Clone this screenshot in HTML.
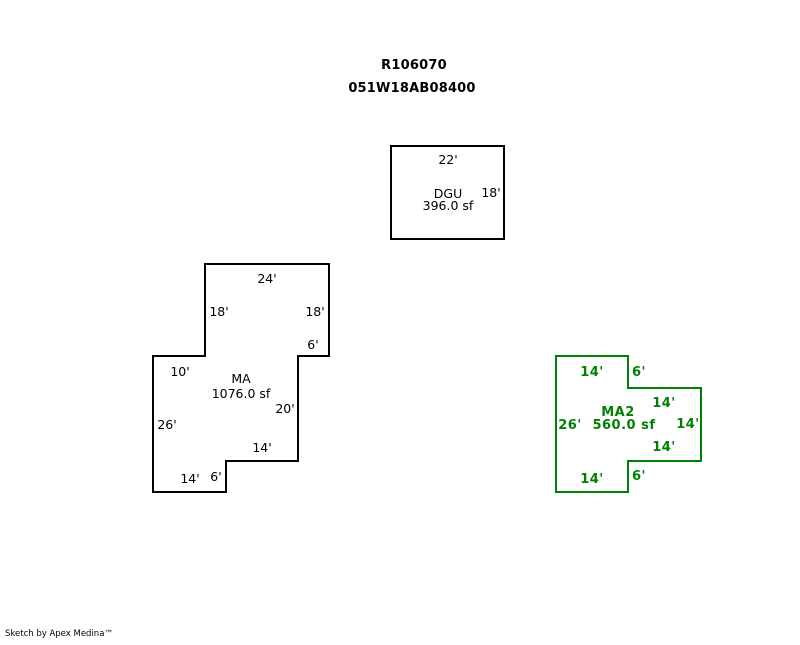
<!DOCTYPE html>
<html><head><style>
body{margin:0;background:#fff}
svg text{font-family:"DejaVu Sans","Liberation Sans",sans-serif;font-size:12.5px}
.g text{font-size:13px;letter-spacing:0.5px}
</style></head><body>
<svg width="800" height="640" xmlns="http://www.w3.org/2000/svg">
<text x="414" y="69" text-anchor="middle" font-weight="bold" style="font-size:13px;letter-spacing:0.2px">R106070</text>
<text x="412" y="92" text-anchor="middle" font-weight="bold" style="font-size:13px;letter-spacing:0.2px">051W18AB08400</text>
<rect x="391" y="146" width="113" height="93" fill="none" stroke="#000" stroke-width="2"/>
<g text-anchor="middle" fill="#000">
<text x="448" y="164">22'</text>
<text x="491" y="197">18'</text>
<text x="448" y="198">DGU</text>
<text x="448" y="210">396.0 sf</text>
</g>
<polygon points="153,356 205,356 205,264 329,264 329,356 298,356 298,461 226,461 226,492 153,492" fill="none" stroke="#000" stroke-width="2"/>
<g text-anchor="middle" fill="#000">
<text x="267" y="283">24'</text>
<text x="219" y="316">18'</text>
<text x="315" y="316">18'</text>
<text x="313" y="349">6'</text>
<text x="180" y="376">10'</text>
<text x="241" y="383">MA</text>
<text x="241" y="398">1076.0 sf</text>
<text x="285" y="413">20'</text>
<text x="167" y="429">26'</text>
<text x="262" y="452">14'</text>
<text x="190" y="483">14'</text>
<text x="216" y="481">6'</text>
</g>
<polygon points="556,356 628,356 628,388 701,388 701,461 628,461 628,492 556,492" fill="none" stroke="#008000" stroke-width="2"/>
<g class="g" text-anchor="middle" fill="#008000" font-weight="bold">
<text x="592" y="376">14'</text>
<text x="639" y="376">6'</text>
<text x="664" y="407">14'</text>
<text x="618" y="416">MA2</text>
<text x="570" y="429">26'</text>
<text x="624" y="429">560.0 sf</text>
<text x="688" y="428">14'</text>
<text x="664" y="451">14'</text>
<text x="592" y="483">14'</text>
<text x="639" y="480">6'</text>
</g>
<text x="5" y="636" style="font-size:8.5px">Sketch by Apex Medina™</text>
</svg>
</body></html>
